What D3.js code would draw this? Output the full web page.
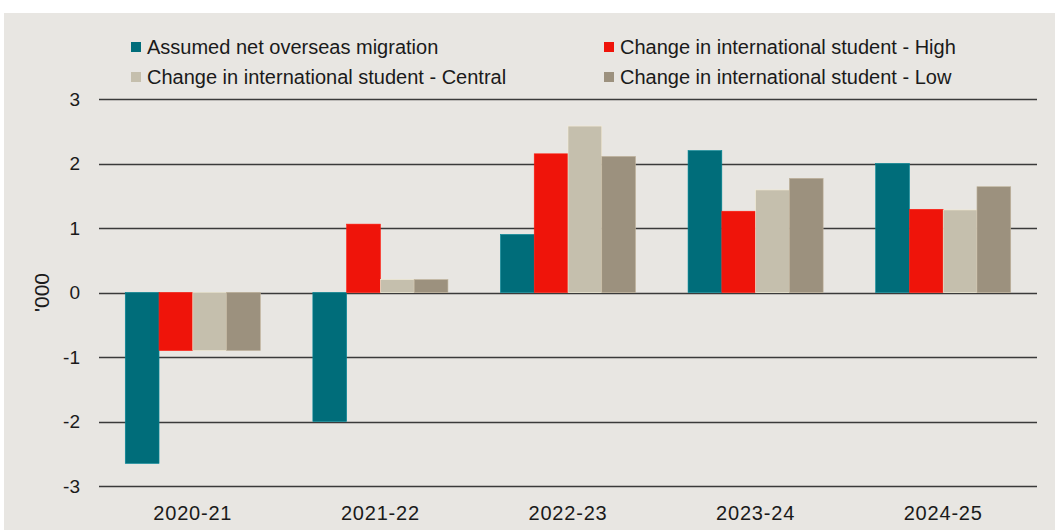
<!DOCTYPE html>
<html>
<head>
<meta charset="utf-8">
<script src="https://cdn.jsdelivr.net/npm/d3@7"></script>
<style>
  body { margin: 0; background: #fff; }
  svg text { fill: #1a1a1a; }
</style>
</head>
<body>
<div id="chart"></div>
<script>
const years = ["2020-21", "2021-22", "2022-23", "2023-24", "2024-25"];
const seriesNames = [
  "Assumed net overseas migration",
  "Change in international student - High",
  "Change in international student - Central",
  "Change in international student - Low"
];
const netMigration = [-2.65, -2.0, 0.9, 2.2, 2.0];
const studentHigh = [-0.9, 1.06, 2.15, 1.26, 1.29];
const studentCentral = [-0.9, 0.2, 2.58, 1.59, 1.28];
const studentLow = [-0.9, 0.2, 2.11, 1.77, 1.64];
const yTicks = [-3, -2, -1, 0, 1, 2, 3];
const colors = ["#006d7a", "#ef140a", "#c5bfad", "#9c917e"];

const series = [netMigration, studentHigh, studentCentral, studentLow];

const width = 1055, height = 530;
const margin = {left: 99, right: 18, top: 99, bottom: 44};

const svg = d3.select("#chart")
    .append("svg")
    .attr("width", width)
    .attr("height", height);

// grey panel
svg.append("rect")
    .attr("x", 4)
    .attr("y", 13)
    .attr("width", width - 4)
    .attr("height", height - 13)
    .attr("fill", "#e8e6e2");

let y = d3.scaleLinear()
    .domain([-3, 3])
    .range([height - margin.bottom, margin.top]);

let x = d3.scaleBand()
    .domain(years)
    .range([margin.left, width - margin.right])
    .paddingInner(0.28)
    .paddingOuter(0.14);

let xi = d3.scaleBand()
    .domain(d3.range(series.length))
    .range([0, x.bandwidth()]);

// gridlines
svg.append("g")
    .selectAll("line")
    .data(yTicks)
    .join("line")
    .attr("x1", margin.left)
    .attr("x2", width - margin.right)
    .attr("y1", d => Math.round(y(d)) + 0.5)
    .attr("y2", d => Math.round(y(d)) + 0.5)
    .attr("stroke", "#3a3a3a")
    .attr("stroke-width", 1.3);

// y tick labels
svg.append("g")
    .selectAll("text")
    .data(yTicks)
    .join("text")
    .attr("x", 80)
    .attr("y", d => y(d))
    .attr("dy", "0.35em")
    .attr("text-anchor", "end")
    .attr("font-family", "Liberation Sans, Arial, sans-serif")
    .attr("font-size", 19)
    .text(d => d);

// y axis title
svg.append("text")
    .attr("transform", "translate(42," + y(0) + ") rotate(-90)")
    .attr("text-anchor", "middle")
    .attr("dy", "0.35em")
    .attr("font-family", "Liberation Sans, Arial, sans-serif")
    .attr("font-size", 21)
    .text("'000");

// bars
let rows = [];
years.forEach((yr, i) => {
    series.forEach((s, j) => rows.push({year: yr, k: j, v: s[i]}));
});

svg.append("g")
    .selectAll("rect")
    .data(rows)
    .join("rect")
    .attr("x", d => x(d.year) + xi(d.k))
    .attr("width", xi.bandwidth())
    .attr("y", d => y(Math.max(0, d.v)))
    .attr("height", d => Math.abs(y(d.v) - y(0)))
    .attr("fill", d => colors[d.k])
    .attr("stroke", d => d3.color(colors[d.k]).brighter(0.6))
    .attr("stroke-width", 0.6);

// x labels
svg.append("g")
    .selectAll("text")
    .data(years)
    .join("text")
    .attr("x", d => x(d) + x.bandwidth() / 2)
    .attr("y", 513)
    .attr("dy", "0.35em")
    .attr("text-anchor", "middle")
    .attr("font-family", "Liberation Sans, Arial, sans-serif")
    .attr("font-size", 20)
    .attr("letter-spacing", 0.8)
    .text(d => d);

// legend
const legendPos = [[131, 47], [604, 47], [131, 77], [604, 77]];
let legend = svg.append("g")
    .selectAll("g")
    .data(seriesNames)
    .join("g")
    .attr("transform", (d, i) => "translate(" + legendPos[i][0] + "," + legendPos[i][1] + ")");

legend.append("rect")
    .attr("x", 0)
    .attr("y", -5)
    .attr("width", 10)
    .attr("height", 10)
    .attr("fill", (d, i) => colors[i]);

legend.append("text")
    .attr("x", 16)
    .attr("y", 0)
    .attr("dy", "0.35em")
    .attr("font-family", "Liberation Sans Narrow, Arial Narrow, sans-serif")
    .attr("font-size", 20)
    .text(d => d);
</script>
</body>
</html>
